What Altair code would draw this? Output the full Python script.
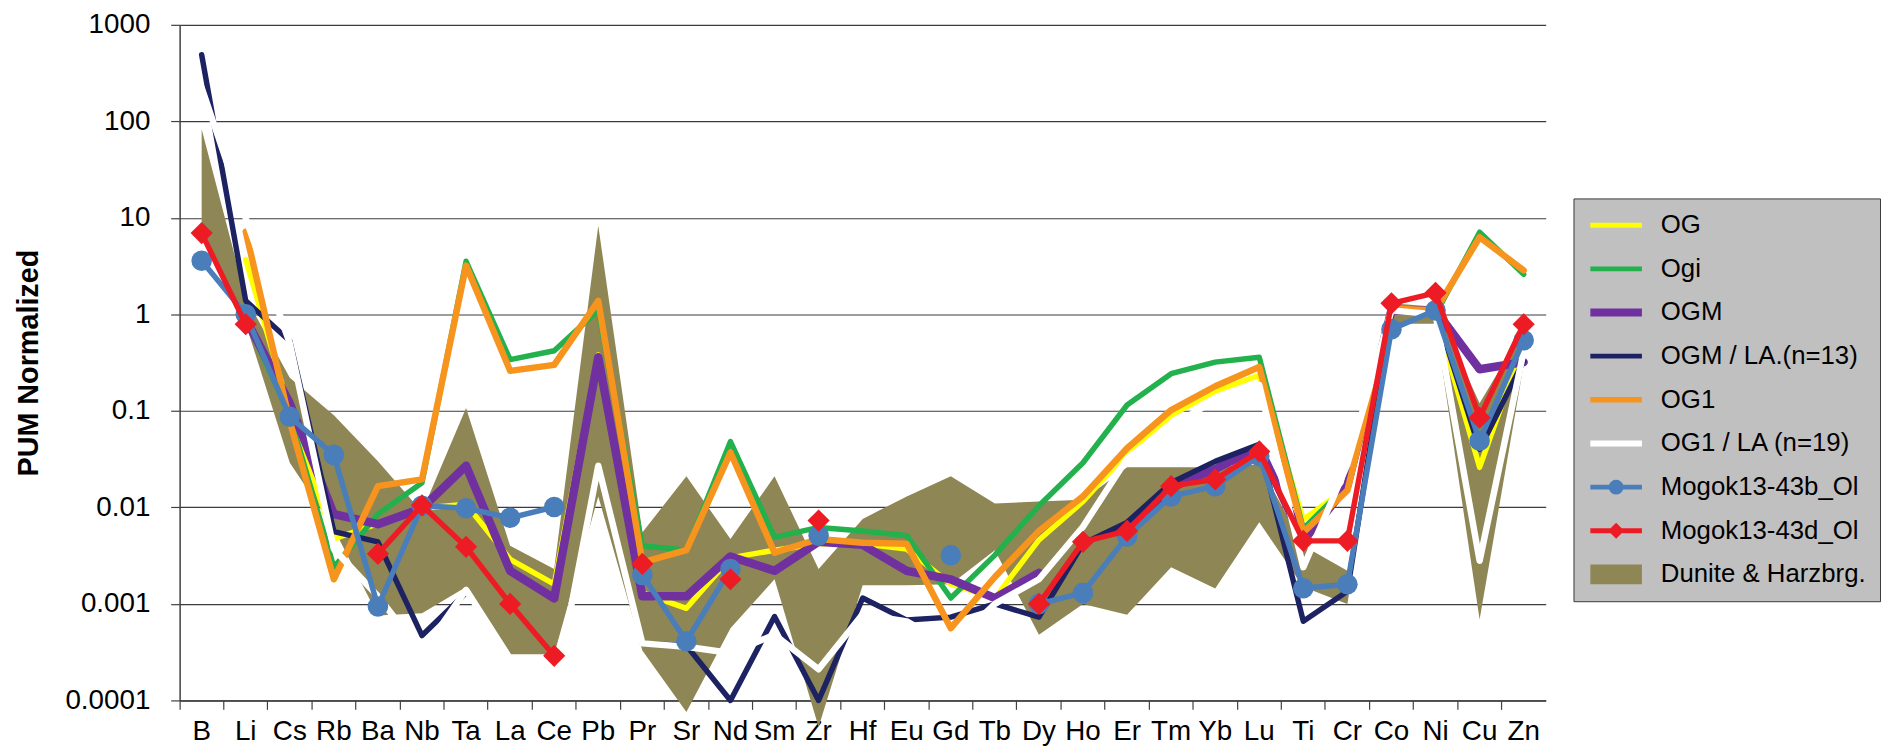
import altair as alt
import pandas as pd

FONT = "Liberation Sans"
N = None

elements = ["B", "Li", "Cs", "Rb", "Ba", "Nb", "Ta", "La", "Ce", "Pb", "Pr", "Sr", "Nd", "Sm", "Zr",
            "Hf", "Eu", "Gd", "Tb", "Dy", "Ho", "Er", "Tm", "Yb", "Lu", "Ti", "Cr", "Co", "Ni", "Cu", "Zn"]

og = [N, 3.7, 0.1, 0.0047, 0.0068, 0.0098, 0.0108, 0.0029, 0.0016, 0.38, 0.0013, 0.0009, 0.003, 0.0036, 0.0042,
      0.0042, 0.0037, 0.0016, 0.00115, 0.0046, 0.0115, 0.037, 0.09, 0.16, 0.234, 0.0075, 0.016, 1.1, 1.0, 0.026, 0.5]
ogi = [N, 0.9, 0.09, 0.0024, 0.0085, 0.018, 3.55, 0.34, 0.42, 1.1, 0.004, 0.0036, 0.048, 0.0049, 0.0062,
       0.0057, 0.0051, 0.00115, 0.0032, 0.0104, 0.029, 0.115, 0.243, 0.32, 0.36, 0.006, 0.017, 1.15, 1.0, 7.1, 2.6]
ogm = [N, 0.9, 0.12, 0.0085, 0.0067, 0.0098, 0.027, 0.0022, 0.00114, 0.36, 0.0012, 0.0012, 0.0031, 0.0022, 0.0044,
       0.0041, 0.0022, 0.0018, 0.00115, 0.0021, N, 0.006, 0.016, 0.025, 0.042, 0.0045, 0.0168, 1.1, 1.1, 0.27, 0.32]
ogm_la = [490, 1.38, 0.53, 0.0056, 0.0044, 0.00047, 0.0013, N, N, N, 0.00039, 0.00037, 0.0001, 0.00074, 0.0001,
          0.00115, 0.00068, 0.00073, 0.001, 0.00073, 0.0042, 0.007, 0.018, 0.03, 0.045, 0.00066, 0.00135, 1.1, 1.1, 0.04, 0.33]
og1 = [N, 7.2, 0.078, 0.0018, 0.0166, 0.0195, 3.2, 0.26, 0.3, 1.38, 0.0027, 0.0036, 0.037, 0.0034, 0.0047,
       0.0043, 0.0042, 0.00056, 0.0019, 0.0057, 0.013, 0.041, 0.102, 0.18, 0.285, 0.0055, 0.015, 1.15, 1.1, 6.3, 2.86]
og1_la = [223, 9.9, 0.5, 0.0037, 0.0012, 0.00031, 0.0014, 0.00027, 0.000115, 0.027, 0.00039, 0.00036, 0.00031, 0.00048, 0.00021,
          0.00078, 0.00066, 0.00036, 0.001, 0.0018, 0.0063, 0.032, 0.069, 0.13, 0.185, 0.0024, 0.028, 1.1, 1.0, 0.0028, 0.41]
mogok_b = [3.6, 1.0, 0.087, 0.035, 0.00094, 0.0104, 0.0098, 0.0078, 0.0101, N, 0.002, 0.00041, 0.0023, N, 0.0051,
           N, N, 0.0032, N, 0.001, 0.0013, 0.005, 0.013, 0.0166, 0.034, 0.00145, 0.0016, 0.7, 1.1, 0.049, 0.54]
mogok_d = [6.95, 0.79, N, N, 0.0033, 0.0105, 0.0039, 0.001, 0.00029, N, 0.0026, N, 0.0018, N, 0.0073,
           N, N, N, N, 0.001, 0.0044, 0.0057, 0.0166, 0.0195, 0.038, 0.0045, 0.0045, 1.3, 1.67, 0.085, 0.79]
band_upper = [83, 1.5, 0.22, 0.09, 0.03, 0.009, 0.107, 0.004, 0.0023, 8.3, 0.0055, 0.021, 0.0047, 0.021, 0.0023,
              0.0076, 0.013, 0.021, 0.011, 0.0115, 0.012, 0.026, 0.026, 0.026, 0.028, 0.004, 0.0022, 1.3, 1.2, 0.12, 0.7]
band_lower = [7, 0.8, 0.029, 0.006, 0.00076, 0.0008, 0.0015, 0.0003, 0.0003, 0.013, 0.00033, 0.000076, 0.00056, 0.0018, 0.000053,
              0.00156, 0.00156, 0.0016, 0.0036, 0.00048, 0.001, 0.00077, 0.0024, 0.00144, 0.007, 0.0015, 0.001, 0.8, 0.8, 0.00069, 0.3]

series_names = ["OG", "Ogi", "OGM", "OGM / LA.(n=13)", "OG1", "OG1 / LA (n=19)",
                "Mogok13-43b_Ol", "Mogok13-43d_Ol", "Dunite & Harzbrg."]
series_colors = ["#FFFF00", "#22B14C", "#7030A0", "#1C2262", "#F7941D", "#FFFFFF",
                 "#4A7EBB", "#ED1C24", "#8E8654"]
line_series = [og, ogi, ogm, ogm_la, og1, og1_la, mogok_b, mogok_d]
line_widths = [5.5, 5.5, 8.5, 5.5, 6.5, 6.5, 5.5, 5.5]

# legend symbol paths (unit = 13 px)
def bar(t):
    return f"M-2,-{t}H2V{t}H-2Z"
path_circle = "M-2,-0.19H-0.548A0.58,0.58 0 0 1 0.548,-0.19H2V0.19H0.548A0.58,0.58 0 0 1 -0.548,0.19H-2Z"
path_diamond = "M-2,-0.19H-0.43L0,-0.62L0.43,-0.19H2V0.19H0.43L0,0.62L-0.43,0.19H-2Z"
legend_paths = [bar(0.19), bar(0.19), bar(0.31), bar(0.19), bar(0.21), bar(0.23),
                path_circle, path_diamond, "M-2,-0.77H2V0.77H-2Z"]

# long-format data with segment ids for gaps
rows = []
for name, vals in zip(series_names[:8], line_series):
    seg, prev = 0, False
    for el, v in zip(elements, vals):
        if v is None:
            prev = False
            continue
        if not prev:
            seg += 1
        rows.append({"el": el, "series": name, "value": v, "seg": f"{name}-{seg}"})
        prev = True
df = pd.DataFrame(rows)
band_df = pd.DataFrame({"el": elements, "upper": band_upper, "lower": band_lower})
legend_df = pd.DataFrame({"series": series_names})

x_axis = alt.Axis(title=None, labelAngle=0, labelFont=FONT, labelFontSize=28, labelColor="black",
                  labelPadding=8, tickSize=9, tickColor="#404040", tickWidth=1.2, domainColor="#404040",
                  domainWidth=1.5, grid=False, bandPosition=0, labelOverlap=False)
y_axis = alt.Axis(title="PUM Normalized", values=[0.0001, 0.001, 0.01, 0.1, 1, 10, 100, 1000], format="~g",
                  labelFont=FONT, labelFontSize=28, labelColor="black", labelPadding=21, tickSize=9,
                  tickColor="#404040", tickWidth=1.2, domainColor="#404040", domainWidth=1.5,
                  grid=True, gridColor="#3C3C3C", gridWidth=1.2, titleFont=FONT, titleFontSize=29,
                  titleFontWeight="bold", titleColor="black", titlePadding=21, minExtent=116, maxExtent=116)

X = alt.X("el:N", sort=elements,
          scale=alt.Scale(type="band", domain=elements, paddingInner=0, paddingOuter=0),
          bandPosition=0.5, axis=x_axis)
y_scale = alt.Scale(type="log", domain=[0.0001, 1000], nice=False)

band = alt.Chart(band_df).mark_area(color=series_colors[8], opacity=1, clip=False).encode(
    x=X, y=alt.Y("upper:Q", scale=y_scale, axis=y_axis), y2="lower:Q")

layers = [band]
base = alt.Chart(df)
for i, name in enumerate(series_names[:8]):
    layers.append(base.transform_filter(alt.datum.series == name).mark_line(
        color=series_colors[i], strokeWidth=line_widths[i], strokeCap="round", strokeJoin="round",
        opacity=1, clip=False).encode(x=X, y=alt.Y("value:Q", scale=y_scale, axis=y_axis), detail="seg:N"))
    if name == "Mogok13-43b_Ol":
        layers.append(base.transform_filter(alt.datum.series == name).mark_point(
            filled=True, shape="circle", size=430, color=series_colors[i], opacity=1, clip=False).encode(
            x=X, y=alt.Y("value:Q", scale=y_scale, axis=y_axis)))
    if name == "Mogok13-43d_Ol":
        layers.append(base.transform_filter(alt.datum.series == name).mark_point(
            filled=True, shape="diamond", size=500, color=series_colors[i], opacity=1, clip=False).encode(
            x=X, y=alt.Y("value:Q", scale=y_scale, axis=y_axis)))

leg = alt.Legend(title=None, orient="none", legendX=1405, legendY=175, symbolSize=676, symbolStrokeWidth=0,
                 symbolOffset=16, labelOffset=32, labelFont=FONT, labelFontSize=26, labelColor="black",
                 labelLimit=600, rowPadding=18, padding=14, fillColor="#C0C0C0", strokeColor="#3A3A3A",
                 cornerRadius=0, symbolOpacity=1)
legend_layer = alt.Chart(legend_df).transform_filter("false").mark_point(filled=True, opacity=1, size=676).encode(
    color=alt.Color("series:N", scale=alt.Scale(domain=series_names, range=series_colors), legend=leg),
    shape=alt.Shape("series:N", scale=alt.Scale(domain=series_names, range=legend_paths), legend=leg),
)
layers.append(legend_layer)

chart = alt.layer(*layers).properties(
    width=1377, height=681,
    padding={"left": 7, "top": 0, "right": 2, "bottom": 0},
    background="white",
).configure_view(fill="#C0C0C0", stroke="transparent")

chart.save("out.html", embed_options={"renderer": "svg", "actions": False})
